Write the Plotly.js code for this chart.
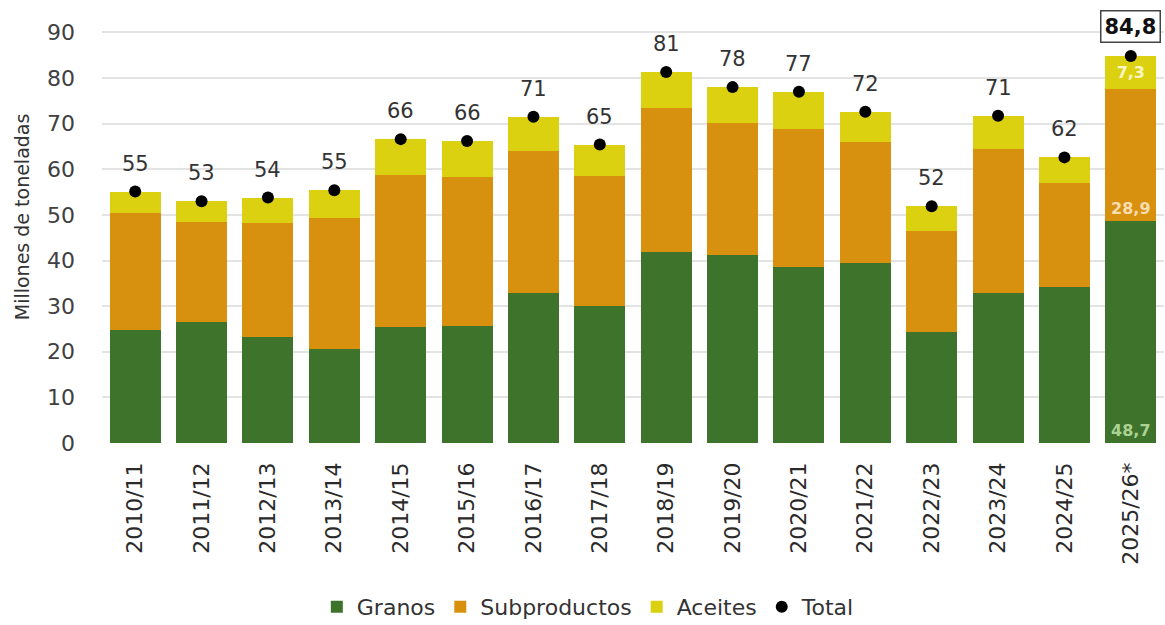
<!DOCTYPE html>
<html>
<head>
<meta charset="utf-8">
<script src="https://cdn.plot.ly/plotly-3.0.1.min.js"></script>
<style>html,body{margin:0;padding:0;background:#fff;}#chart{width:1165px;height:625px;}</style>
</head>
<body>
<div id="chart"></div>
<script>
var categories = ["2010/11","2011/12","2012/13","2013/14","2014/15","2015/16","2016/17","2017/18","2018/19","2019/20","2020/21","2021/22","2022/23","2023/24","2024/25","2025/26*"];
var granos       = [24.7, 26.5, 23.3, 20.7, 25.5, 25.7, 32.9, 30.0, 41.8, 41.3, 38.6, 39.5, 24.3, 32.9, 34.3, 48.7];
var subproductos = [25.7, 22.0, 24.9, 28.6, 33.3, 32.5, 31.1, 28.5, 31.7, 28.9, 30.2, 26.5, 22.1, 31.6, 22.7, 28.9];
var aceites      = [4.7, 4.5, 5.6, 6.1, 7.8, 8.0, 7.5, 6.9, 7.8, 7.8, 8.2, 6.6, 5.5, 7.2, 5.6, 7.3];
var totals       = [55.1, 53.0, 53.8, 55.4, 66.6, 66.2, 71.5, 65.4, 81.3, 78.0, 77.0, 72.6, 51.9, 71.7, 62.6, 84.8];
var totalLabels  = ["55","53","54","55","66","66","71","65","81","78","77","72","52","71","62","84,8"];
var yTicks       = [0,10,20,30,40,50,60,70,80,90];

var last = categories.length - 1;
function insideText(arr) {
  return arr.map(function (v, i) { return i === last ? String(v).replace('.', ',') : ''; });
}

var font = "DejaVu Sans, sans-serif";

var traces = [
  {type:'bar', name:'Granos', x:categories, y:granos, marker:{color:'#3e732b'},
   text: insideText(granos), textposition:'inside', insidetextanchor:'start', constraintext:'none',
   textfont:{color:'#acd293', size:16, family:font, weight:'bold'}, hoverinfo:'y+name'},
  {type:'bar', name:'Subproductos', x:categories, y:subproductos, marker:{color:'#d8900f'},
   text: insideText(subproductos), textposition:'inside', insidetextanchor:'start', constraintext:'none',
   textfont:{color:'#f8ddb0', size:16, family:font, weight:'bold'}, hoverinfo:'y+name'},
  {type:'bar', name:'Aceites', x:categories, y:aceites, marker:{color:'#dbd111'},
   text: insideText(aceites), textposition:'inside', insidetextanchor:'middle', constraintext:'none',
   textfont:{color:'#fbf6c4', size:16, family:font, weight:'bold'}, hoverinfo:'y+name'},
  {type:'scatter', mode:'markers', name:'Total', x:categories, y:totals,
   marker:{color:'#000', size:12}, hoverinfo:'y+name', cliponaxis:false}
];

var annotations = categories.map(function (c, i) {
  var a = {x:c, y:totals[i], xref:'x', yref:'y', text:totalLabels[i], showarrow:false,
           yshift:28, font:{size:21, color:'#333', family:font}};
  if (i === last) {
    a.font = {size:21, color:'#111', family:font, weight:'bold'};
    a.bordercolor = '#444'; a.borderwidth = 1.5; a.borderpad = 3; a.bgcolor = '#fff';
    a.yshift = 30;
  }
  return a;
});
annotations.push({text:'Millones de toneladas', xref:'paper', yref:'paper', x:-0.0753, y:0.548,
  textangle:-90, showarrow:false, xanchor:'center', yanchor:'middle',
  font:{size:19, color:'#333', family:font}});

var layout = {
  width:1165, height:625,
  margin:{l:102, r:1, t:31, b:182},
  paper_bgcolor:'#fff', plot_bgcolor:'#fff',
  barmode:'stack', bargap:0.23,
  font:{family:font, color:'#333'},
  xaxis:{type:'category', range:[-0.5, categories.length - 0.5], tickangle:-90,
         tickfont:{size:22, color:'#2a2a2a', family:font},
         showgrid:false, zeroline:false, showline:false, ticks:'', ticklabelstandoff:14, automargin:false},
  yaxis:{range:[0,90.3], tickvals:yTicks, tickfont:{size:22, color:'#404040', family:font},
         gridcolor:'#e3e3e3', gridwidth:1.5, zeroline:false, showline:false, ticks:'',
         ticklabelstandoff:26, automargin:false},
  legend:{orientation:'h', xref:'container', yref:'container', x:0.505, xanchor:'center',
          y:0.029, yanchor:'middle', traceorder:'normal',
          font:{size:22, color:'#333', family:font}},
  annotations: annotations,
  showlegend:true
};

Plotly.newPlot('chart', traces, layout, {displayModeBar:false, responsive:false});
</script>
</body>
</html>
